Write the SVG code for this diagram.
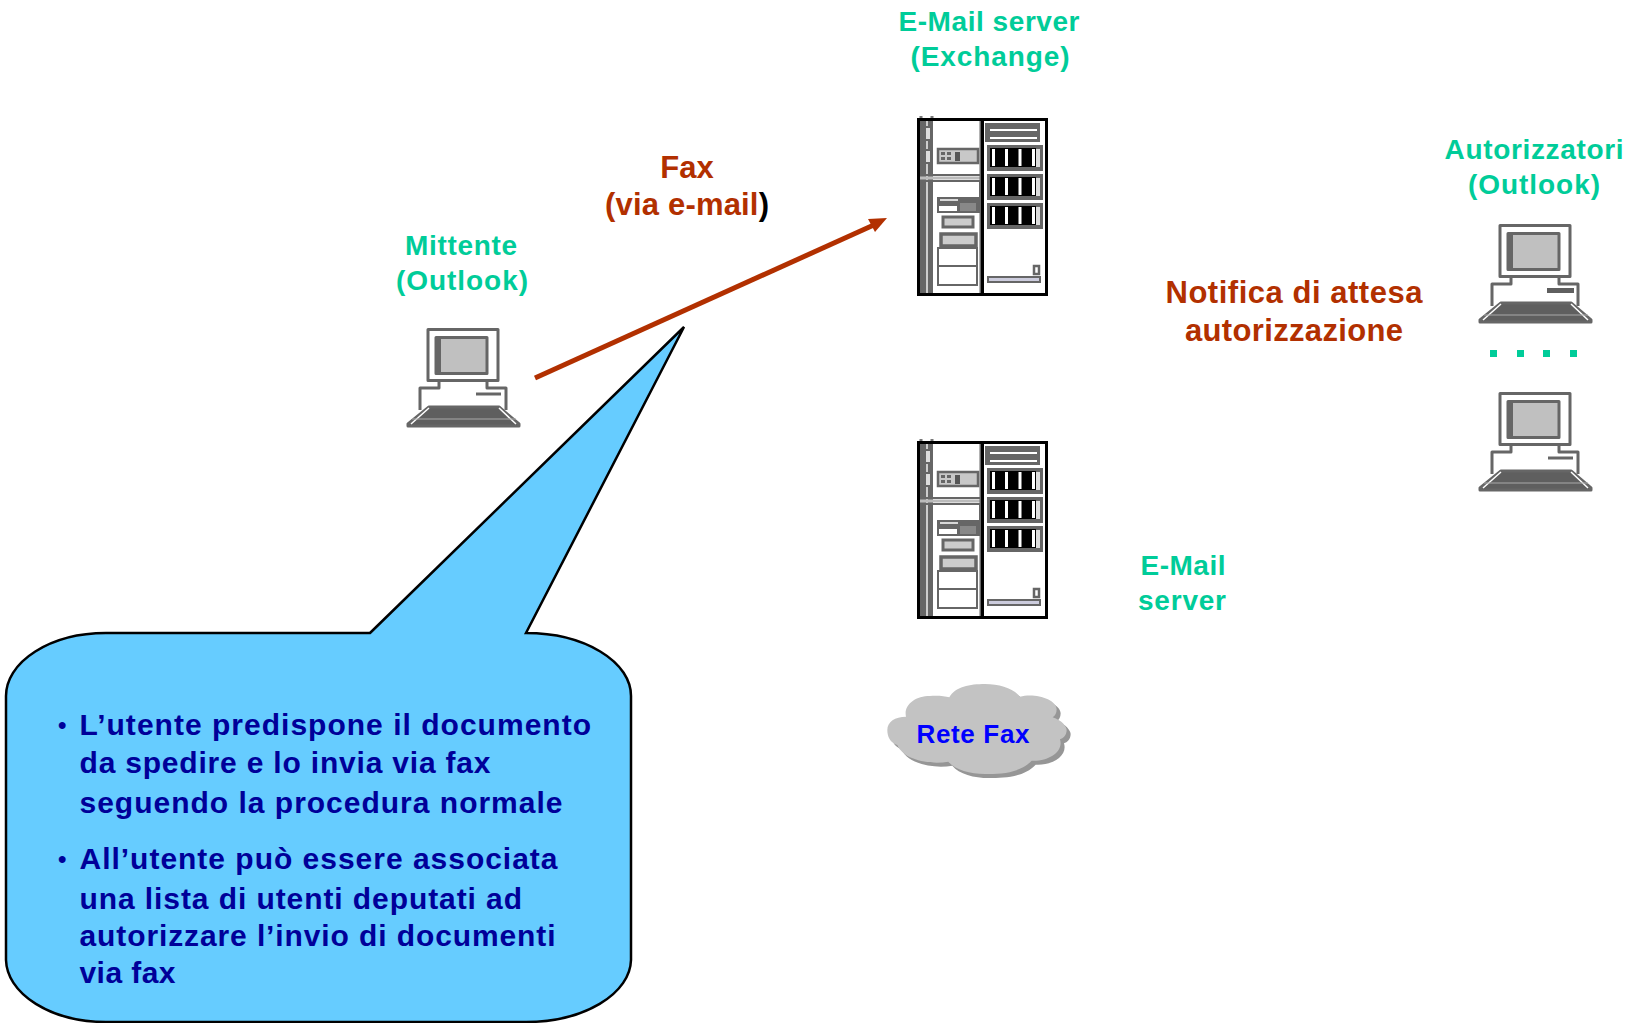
<svg xmlns="http://www.w3.org/2000/svg" xmlns:xlink="http://www.w3.org/1999/xlink" width="1640" height="1023" viewBox="0 0 1640 1023">
<style>
text{font-family:"Liberation Sans",Arial,sans-serif;font-weight:bold}
.g{fill:#00cc99;font-size:28px;text-anchor:middle}
.r{fill:#b23000;font-size:31px;text-anchor:middle}
.b{fill:#000099;font-size:30px}
.bu{fill:#000099;font-size:24px}
</style>
<defs>
<symbol id="pc" overflow="visible">
<g fill="none" stroke="#666" stroke-width="3" stroke-linejoin="round">
<rect x="428" y="329.500" width="70" height="51" fill="#fff"/>
<rect x="436" y="337.500" width="51" height="36" fill="#c0c0c0" stroke-width="3"/>
<path d="M439 337.500V373" stroke-width="4"/>
<path d="M439 381V388H420V410M487 381V388H506V410"/>
<path d="M476 394H501"/>
</g>
<path d="M429 407H499L519 424V426H408V424Z" fill="#5f5f5f" stroke="#666" stroke-width="3" stroke-linejoin="round"/>
<path d="M429 408L411 424M499 408L516 424" stroke="#fff" stroke-width="1.500"/>
<path d="M412 419H516" stroke="#aaa" stroke-width="1"/>
</symbol>
<symbol id="srv" overflow="visible">
<rect x="918.500" y="119.500" width="128" height="175" fill="#fff"/>
<path d="M921 116v4M932 116v4" stroke="#777" stroke-width="3"/>
<rect x="919" y="120" width="14" height="174" fill="#666"/>
<path d="M927 120V294" stroke="#ccc" stroke-width="2"/>
<path d="M925 127h6v13h-6ZM925 150h6v13h-6Z" fill="#ddd" stroke="#666" stroke-width="2"/>
<rect x="938" y="149" width="40" height="14" fill="#c8c8c8" stroke="#666" stroke-width="2.500"/>
<path d="M941 152h4v3h-4ZM947 152h4v3h-4ZM941 157h4v3h-4ZM947 157h4v3h-4Z" fill="#666"/>
<rect x="955" y="152" width="5" height="9" fill="#555"/>
<path d="M919 175H982M919 181H982" stroke="#666" stroke-width="2"/>
<path d="M919 178H982" stroke="#bbb" stroke-width="3"/>
<path d="M980.500 181V197" stroke="#666" stroke-width="3"/>
<rect x="937" y="197" width="43" height="16" fill="#666"/>
<path d="M940 200h18" stroke="#fff" stroke-width="1.500"/>
<rect x="939" y="206" width="18" height="5" fill="#fff"/>
<path d="M960 203h16v8h-16Z" fill="#888"/>
<rect x="943" y="217" width="30" height="10" fill="#ccc" stroke="#666" stroke-width="3"/>
<rect x="941" y="234" width="35" height="12" fill="#ccc" stroke="#666" stroke-width="3.500"/>
<rect x="938" y="248" width="39" height="37" fill="#fff" stroke="#666" stroke-width="2"/>
<path d="M938 266H977" stroke="#666" stroke-width="2"/>
<path d="M981 120V294" stroke="#666" stroke-width="3"/>
<rect x="985" y="123" width="55" height="19" fill="#666"/>
<path d="M990 130H1037M990 138H1037" stroke="#fff" stroke-width="2"/>
<g id="bay"><rect x="987" y="145" width="56" height="26" fill="#666"/><rect x="990" y="148" width="46" height="19" fill="#000"/><rect x="1036" y="149" width="4" height="18" fill="#ddd"/><path d="M993.500 149v17M1006.500 149v17M1020 149v17M1033.500 149v17" stroke="#fff" stroke-width="3"/></g>
<use xlink:href="#bay" y="29"/><use xlink:href="#bay" y="58"/>
<rect x="1034" y="266" width="5" height="8" fill="#fff" stroke="#666" stroke-width="2.500"/>
<rect x="988" y="277" width="52" height="5" fill="#ccd" stroke="#666" stroke-width="2"/>
<rect x="918.500" y="119.500" width="128" height="175" fill="none" stroke="#000" stroke-width="3"/>
<path d="M982.500 119V295" stroke="#000" stroke-width="3"/>
</symbol>
<path id="cloud" d="M52 180C52 155 75 140 108 140C100 105 135 78 180 78C200 76 225 78 238 82C255 50 300 42 345 42C390 42 430 55 450 80C490 68 560 85 560 118C560 130 555 138 548 142C575 150 590 170 590 180C590 195 580 205 570 208C582 245 535 275 485 272C450 310 390 312 345 312C300 312 255 300 235 275C180 285 100 270 82 225C60 218 52 200 52 180Z"/>
</defs>
<rect width="1640" height="1023" fill="#fff"/>
<g id="connectors">
<path d="M535 378L876 224" stroke="#b23000" stroke-width="5" fill="none"/>
<path d="M887 218L868 219L875 232Z" fill="#b23000"/>
</g>
<g id="mittente"><use xlink:href="#pc"/>
<text class="g" x="461" y="255" textLength="112">Mittente</text><text class="g" x="462" y="290" textLength="132">(Outlook)</text></g>
<g id="exchange"><use xlink:href="#srv"/>
<text class="g" x="989" y="31" textLength="181">E-Mail server</text><text class="g" x="990" y="66" textLength="159">(Exchange)</text></g>
<g id="email-server"><use xlink:href="#srv" y="323"/>
<text class="g" x="1183" y="575" textLength="85">E-Mail</text><text class="g" x="1182" y="610" textLength="88">server</text></g>
<g id="autorizzatori"><use xlink:href="#pc" x="1072" y="-104"/><use xlink:href="#pc" x="1072" y="64"/>
<rect x="1547" y="288" width="27" height="5" fill="#5f5f5f"/>
<text class="g" x="1534" y="159" textLength="179">Autorizzatori</text><text class="g" x="1534" y="194" textLength="132">(Outlook)</text>
<path d="M1490 350h7v7h-7ZM1517 350h7v7h-7ZM1543 350h7v7h-7ZM1570 350h7v7h-7Z" fill="#00cc99"/></g>
<g id="fax-label"><text class="r" x="687" y="178">Fax</text><text class="r" x="687" y="215" textLength="164"><tspan>(via e-mail</tspan><tspan fill="#000">)</tspan></text></g>
<g id="notifica"><text class="r" x="1294" y="303" textLength="257">Notifica di attesa</text><text class="r" x="1294" y="341" textLength="218">autorizzazione</text></g>
<g id="rete-fax">
<use xlink:href="#cloud" transform="translate(874 674) scale(.3333)" fill="#969696"/>
<use xlink:href="#cloud" transform="translate(870 670) scale(.3333)" fill="#c3c3c3"/>
<text x="973" y="743" text-anchor="middle" fill="#0000ff" font-size="26" textLength="113">Rete Fax</text>
</g>
<g id="callout">
<path d="M370 633L684 327L526 633A105 63 0 0 1 631 696V960A105 63 0 0 1 526 1022H106A100 63 0 0 1 6 960V696A100 63 0 0 1 106 633Z" fill="#66ccff" stroke="#000" stroke-width="2.500"/>
<text class="bu" x="58" y="733">•</text><text class="b" x="79.500" y="735" textLength="511.500">L’utente predispone il documento</text>
<text class="b" x="79.500" y="773" textLength="411">da spedire e lo invia via fax</text>
<text class="b" x="79.500" y="813" textLength="483">seguendo la procedura normale</text>
<text class="bu" x="58" y="867">•</text><text class="b" x="79.500" y="869" textLength="478">All’utente può essere associata</text>
<text class="b" x="79.500" y="909" textLength="442.500">una lista di utenti deputati ad</text>
<text class="b" x="79.500" y="946" textLength="476">autorizzare l’invio di documenti</text>
<text class="b" x="79.500" y="983" textLength="96">via fax</text>
</g>
</svg>
